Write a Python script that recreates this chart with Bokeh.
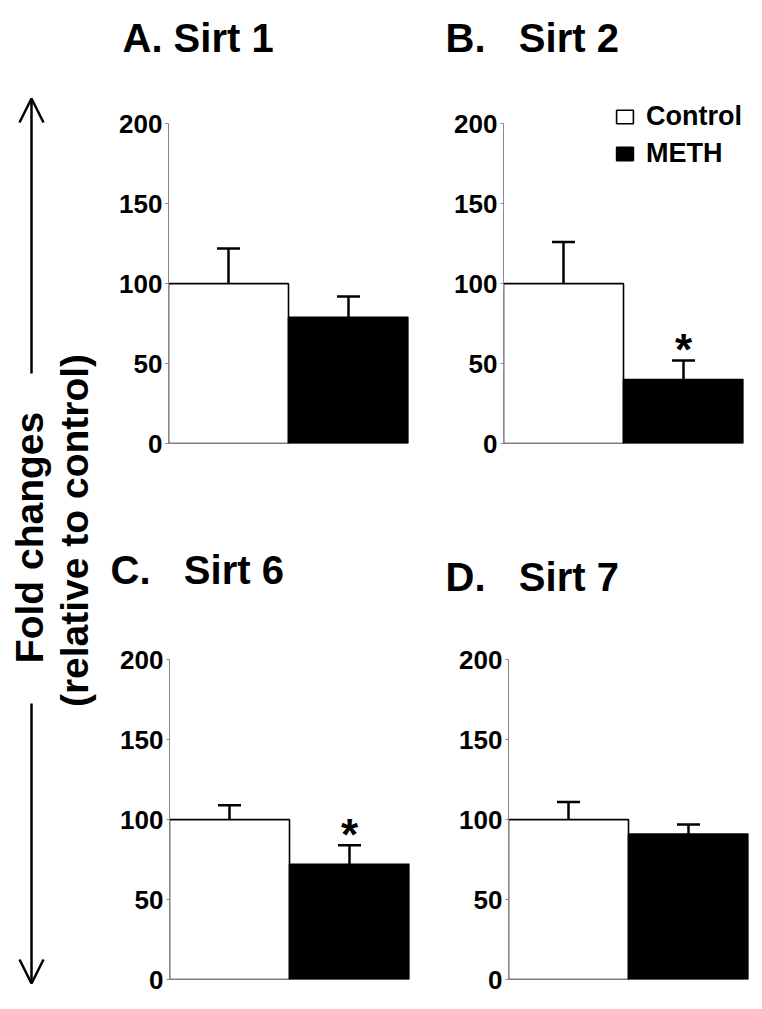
import math
from bokeh.plotting import figure
from bokeh.models import (Range1d, ColumnDataSource, Whisker, TeeHead, Legend, LegendItem,
                          Arrow, OpenHead, FixedTicker)
from bokeh.layouts import row, column
from bokeh.core.properties import value
from bokeh.embed import file_html
from bokeh.resources import INLINE

# ---------------- data ----------------
genes = ["Sirt 1", "Sirt 2", "Sirt 6", "Sirt 7"]
panel_letters = ["A.", "B.\u00a0\u00a0", "C.\u00a0\u00a0", "D.\u00a0\u00a0"]
control_mean = [100, 100, 100, 100]
control_sem = [22, 26, 9, 11]
meth_mean = [79, 40, 72, 91]
meth_sem = [13, 12, 12, 6]
significant = [False, True, True, False]
groups = ["Control", "METH"]
y_ticks = [0, 50, 100, 150, 200]
y_label_1 = "Fold changes"
y_label_2 = "(relative to control)"

FONT = "Liberation Sans"

# ---------------- layout (pixels) ----------------
FRAME_W = 240
Y_TOP = 234            # frame reaches above the 200 tick (room for legend)
FRAME_H = 374          # 1.6 px per unit
LEFT_W = 108
panel_cfg = [
    # border_left, border_right, border_top, border_bottom, title offset, title standoff
    dict(bl=60, br=35, bt=69, bb=17, toff=-46, tst=20),
    dict(bl=60, br=15, bt=69, bb=17, toff=-58, tst=20),
    dict(bl=61, br=34, bt=145, bb=25, toff=-59, tst=27),
    dict(bl=65, br=5, bt=145, bb=25, toff=-63, tst=13),
]


def make_panel(i):
    c = panel_cfg[i]
    w = c["bl"] + FRAME_W + c["br"]
    p = figure(width=w, height=c["bt"] + FRAME_H + c["bb"],
               x_range=Range1d(0, 2), y_range=Range1d(0, Y_TOP),
               output_backend="svg", toolbar_location=None, x_axis_location=None,
               min_border_left=c["bl"], min_border_right=c["br"],
               min_border_top=c["bt"], min_border_bottom=c["bb"],
               title=panel_letters[i] + " " + genes[i])
    p.outline_line_color = None
    p.grid.visible = False

    t = p.title
    t.align = "left"
    t.vertical_align = "bottom"
    t.offset = c["toff"]
    t.standoff = c["tst"]
    t.text_font = FONT
    t.text_font_style = "bold"
    t.text_font_size = "40px"
    t.text_color = "black"

    ax = p.yaxis[0]
    ax.ticker = FixedTicker(ticks=y_ticks)
    ax.bounds = (0, 200)
    ax.axis_line_color = "#888888"
    ax.axis_line_width = 1
    ax.major_tick_in = 0
    ax.major_tick_out = 3
    ax.major_tick_line_color = "#888888"
    ax.minor_tick_line_color = None
    ax.major_label_standoff = 3
    ax.major_label_text_font = FONT
    ax.major_label_text_font_style = "bold"
    ax.major_label_text_font_size = "26px"
    ax.major_label_text_color = "black"

    r_ctrl = p.vbar(x=[0.5], top=[control_mean[i]], bottom=0, width=1,
                    fill_color="white", line_color="black", line_width=1.6)
    r_meth = p.vbar(x=[1.5], top=[meth_mean[i]], bottom=0, width=1,
                    fill_color="black", line_color="black", line_width=1.6)

    src = ColumnDataSource(dict(
        x=[0.5, 1.5],
        lower=[control_mean[i], meth_mean[i]],
        upper=[control_mean[i] + control_sem[i], meth_mean[i] + meth_sem[i]],
    ))
    wsk = Whisker(source=src, base="x", lower="lower", upper="upper", dimension="height",
                  line_color="black", line_width=2.5,
                  upper_head=TeeHead(size=23, line_width=2.5, line_color="black"),
                  lower_head=None, level="overlay")
    p.add_layout(wsk)

    if significant[i]:
        p.text(x=[1.5], y=[meth_mean[i] + meth_sem[i]], text=["*"],
               text_font=value(FONT), text_font_style="bold", text_font_size="44px",
               text_align="center", text_baseline="middle", y_offset=-11,
               text_color="black")

    if i == 1:
        leg = Legend(items=[LegendItem(label=groups[0], renderers=[r_ctrl]),
                            LegendItem(label=groups[1], renderers=[r_meth])],
                     location=(111, 274), padding=0, margin=0, spacing=6,
                     glyph_width=21, glyph_height=17, label_standoff=11,
                     label_text_font=FONT, label_text_font_style="bold",
                     label_text_font_size="27px", label_text_color="black",
                     border_line_color=None, background_fill_alpha=0)
        p.add_layout(leg)
    return p


panels = [make_panel(i) for i in range(4)]

TOTAL_H = 1004
left = figure(width=LEFT_W, height=TOTAL_H, x_range=Range1d(0, LEFT_W), y_range=Range1d(0, TOTAL_H),
              output_backend="svg", toolbar_location=None,
              x_axis_location=None, y_axis_location=None,
              min_border=0, min_border_left=0, min_border_right=0,
              min_border_top=0, min_border_bottom=0)
left.outline_line_color = None
left.grid.visible = False

ax_x = 31
left.add_layout(Arrow(x_start=ax_x, y_start=TOTAL_H - 373, x_end=ax_x, y_end=TOTAL_H - 98,
                      line_width=2.5, line_color="black",
                      end=OpenHead(size=24, line_width=2.5, line_color="black")))
left.add_layout(Arrow(x_start=ax_x, y_start=TOTAL_H - 703, x_end=ax_x, y_end=TOTAL_H - 983,
                      line_width=2.5, line_color="black",
                      end=OpenHead(size=24, line_width=2.5, line_color="black")))
left.text(x=[29, 74], y=[TOTAL_H - 537, TOTAL_H - 530], text=[y_label_1, y_label_2],
          angle=math.pi / 2, text_font=value(FONT), text_font_style="bold",
          text_font_size="39px", text_align="center", text_baseline="middle",
          text_color="black")

layout = row(left, column(row(panels[0], panels[1]), row(panels[2], panels[3])))

open("out.html", "w").write(file_html(layout, INLINE))
